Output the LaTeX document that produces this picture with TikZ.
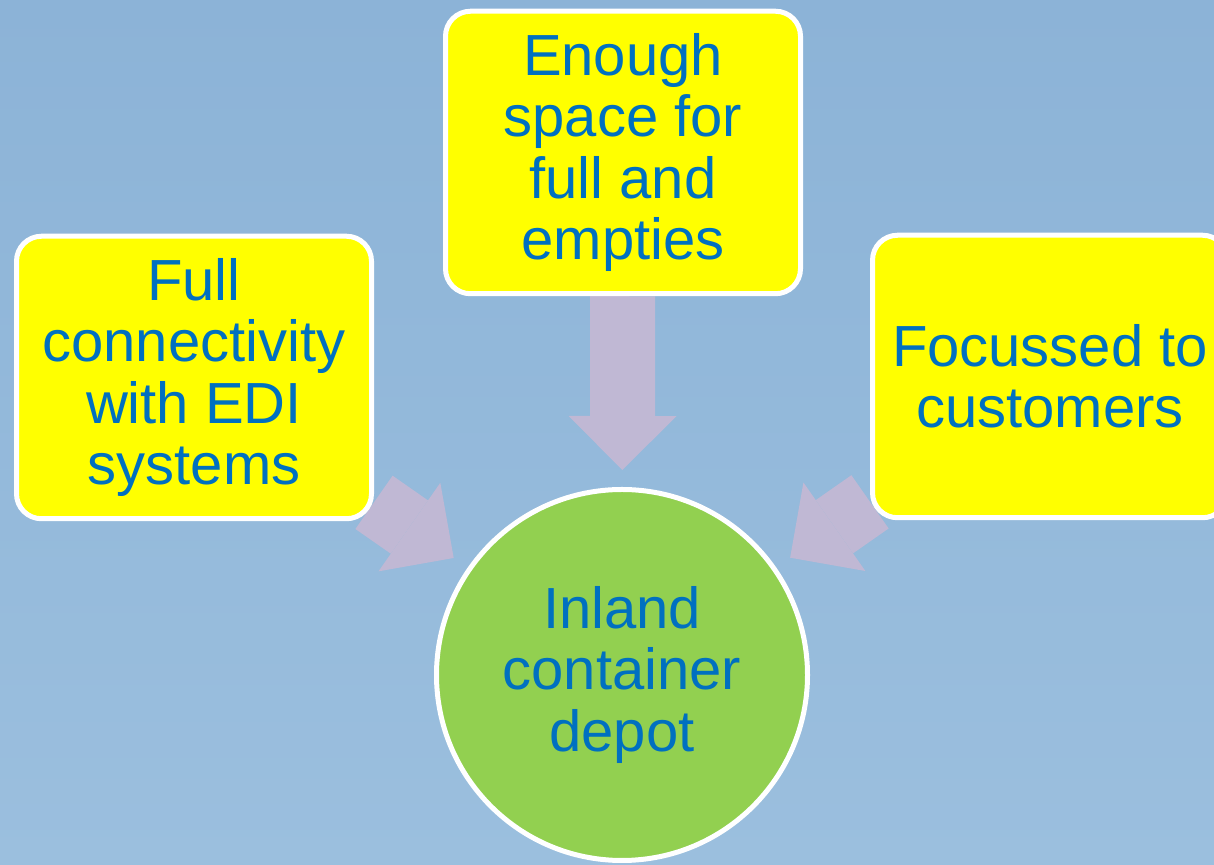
\documentclass[tikz,border=0pt]{standalone}
\usepackage{fontspec}
\setmainfont{Liberation Sans}
\usepackage{tikz}
\usetikzlibrary{shapes,arrows.meta}

\definecolor{skyblue}{RGB}{155,191,222}
\definecolor{skydark}{RGB}{140,179,215}
\definecolor{lilac}{RGB}{192,184,212}
\definecolor{textblue}{RGB}{0,112,192}
\definecolor{leaf}{RGB}{146,208,80}
\definecolor{boxyellow}{RGB}{255,255,0}

\pgfdeclarelayer{bg}
\pgfdeclarelayer{back}
\pgfsetlayers{bg,back,main}

\begin{document}
\begin{tikzpicture}[every node/.style={font=\fontsize{33}{34.9}\selectfont,text=textblue,align=center,draw=white,line width=0.1cm},
                    box/.style={rectangle,rounded corners=0.5cm,fill=boxyellow,minimum width=7.1cm,minimum height=5.65cm},
                    hub/.style={circle,fill=leaf,minimum size=7.42cm,inner sep=0pt},
                    link/.style={draw=lilac,line width=1.3cm,shorten >=0.34cm,
                                 -{Triangle[length=1.08cm,width=2.16cm,line width=0pt]}}]
  \useasboundingbox (0,0) rectangle (24.28,17.3);
  \begin{pgfonlayer}{bg}
    \fill[top color=skydark,bottom color=skyblue] (0,0) rectangle (24.28,17.3);
  \end{pgfonlayer}

  \node[box] (edi)   at (3.88,9.75)  {Full\\connectivity\\with EDI\\systems};
  \node[box] (space) at (12.46,14.25) {Enough\\space for\\full and\\empties};
  \node[box] (cust)  at (21.0,9.77)  {Focussed to\\customers};
  \node[hub] (icd)   at (12.44,3.8)  {Inland\\container\\depot};

  \begin{pgfonlayer}{back}
    \draw[link] (edi) -- (icd);
    \draw[link] (space) -- (icd);
    \draw[link] (cust) -- (icd);
  \end{pgfonlayer}
\end{tikzpicture}
\end{document}
